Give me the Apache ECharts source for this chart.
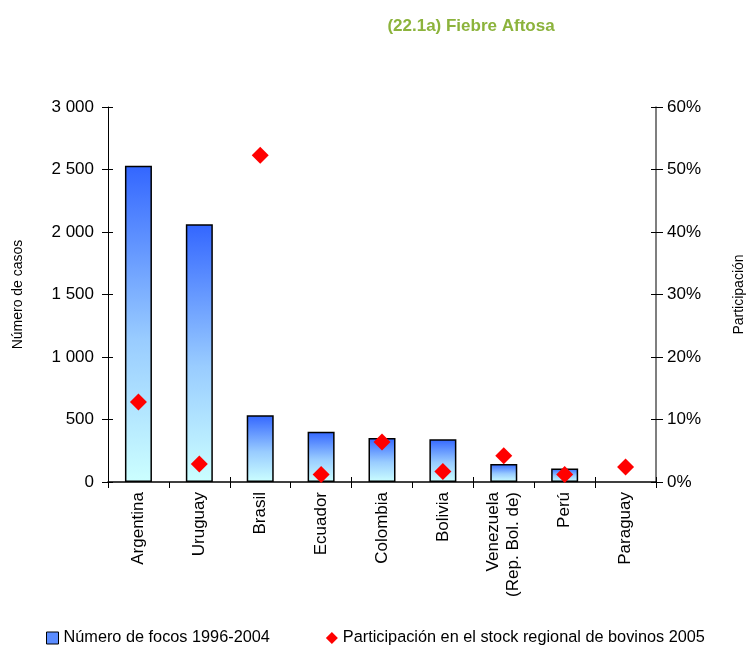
<!DOCTYPE html>
<html><head><meta charset="utf-8">
<script src="https://cdn.jsdelivr.net/npm/echarts@6/dist/echarts.min.js"></script>
<style>html,body{margin:0;padding:0;background:#fff}#c{width:750px;height:648px}</style>
</head><body><div id="c"></div>
<script>
const categories = ['Argentina','Uruguay','Brasil','Ecuador','Colombia','Bolivia','Venezuela\n(Rep. Bol. de)','Perú','Paraguay'];
const focos = [2530, 2062, 535, 402, 353, 343, 145, 108, null];
const participacion = [12.8, 2.9, 52.3, 1.2, 6.4, 1.7, 4.2, 1.2, 2.4];
const leftTicks = [0, 500, 1000, 1500, 2000, 2500, 3000];
const rightTicks = [0, 10, 20, 30, 40, 50, 60];
const FONT = '"Liberation Sans Narrow", "Arial Narrow", "Liberation Sans", Arial, sans-serif';

const chart = echarts.init(document.getElementById('c'));
const fmtNum = v => v >= 1000 ? Math.floor(v/1000) + ' ' + String(v%1000).padStart(3,'0') : String(v);
chart.setOption({
  animation: false,
  title: { text: '(22.1a) Fiebre Aftosa', left: 466, top: 13, textAlign: 'center',
    textStyle: { color: '#8cb33c', fontFamily: FONT, fontWeight: 'bold', fontSize: 17 } },
  legend: {
    bottom: 2, left: 46, padding: 0, itemGap: 56, itemWidth: 12, itemHeight: 12,
    textStyle: { fontFamily: FONT, fontSize: 16.3, color: '#000' },
    data: [
      { name: 'Número de focos 1996-2004', icon: 'rect', itemStyle: { color: '#5b8cff', borderColor: '#000', borderWidth: 1 } },
      { name: 'Participación en el stock regional de bovinos 2005', icon: 'diamond', itemStyle: { color: '#ff0000', opacity: 1 } }
    ]
  },
  grid: { left: 108, right: 94, top: 107, bottom: 166, containLabel: false, outerBoundsMode: 'none' },
  xAxis: [{
    type: 'category', data: categories,
    axisLine: { lineStyle: { color: '#000', width: 1.5 } },
    axisTick: { show: true, alignWithLabel: false, length: 6, lineStyle: { color: '#000' } },
    axisLabel: { rotate: 90, fontFamily: FONT, fontSize: 17, color: '#000', margin: 10, lineHeight: 20, align: 'right', verticalAlign: 'middle' }
  }, {
    type: 'category', data: categories, position: 'bottom',
    axisLine: { show: false }, axisLabel: { show: false },
    axisTick: { show: true, inside: true, length: 5, lineStyle: { color: '#000' } }
  }],
  yAxis: [{
    type: 'value', min: 0, max: 3000, interval: 500,
    name: 'Número de casos', nameLocation: 'middle', nameGap: 83, nameRotate: 90,
    nameTextStyle: { fontFamily: FONT, fontSize: 14, color: '#000' },
    axisLine: { show: true, lineStyle: { color: '#000', width: 1 } },
    axisTick: { show: true, length: 6, lineStyle: { color: '#000' } },
    splitLine: { show: false },
    axisLabel: { fontFamily: FONT, fontSize: 17, color: '#000', margin: 14, formatter: v => leftTicks.includes(v) ? fmtNum(v) : '' }
  }, {
    type: 'value', min: 0, max: 60, interval: 10, position: 'right',
    name: 'Participación', nameLocation: 'middle', nameGap: 76, nameRotate: 90,
    nameTextStyle: { fontFamily: FONT, fontSize: 14, color: '#000' },
    axisLine: { show: true, lineStyle: { color: '#555', width: 1.5 } },
    axisTick: { show: true, length: 7, lineStyle: { color: '#000' } },
    splitLine: { show: false },
    axisLabel: { fontFamily: FONT, fontSize: 17, color: '#000', margin: 11, formatter: v => rightTicks.includes(v) ? v + '%' : '' }
  }, {
    type: 'value', min: 0, max: 3000, interval: 500, position: 'left',
    axisLine: { show: false }, axisLabel: { show: false }, splitLine: { show: false },
    axisTick: { show: true, inside: true, length: 5, lineStyle: { color: '#000' } }
  }, {
    type: 'value', min: 0, max: 60, interval: 10, position: 'right',
    axisLine: { show: false }, axisLabel: { show: false }, splitLine: { show: false },
    axisTick: { show: true, inside: true, length: 5, lineStyle: { color: '#000' } }
  }],
  series: [{
    name: 'Número de focos 1996-2004', type: 'bar', data: focos, barWidth: 27, yAxisIndex: 0,
    itemStyle: {
      borderColor: '#000', borderWidth: 1.5,
      color: new echarts.graphic.LinearGradient(0, 0, 0, 1, [
        { offset: 0, color: '#3366ff' }, { offset: 0.55, color: '#99ccff' }, { offset: 1, color: '#ccffff' }
      ], false)
    }
  }, {
    name: 'Participación en el stock regional de bovinos 2005', type: 'scatter', data: participacion,
    yAxisIndex: 1, symbol: 'diamond', symbolSize: [17, 17], z: 5,
    itemStyle: { color: '#ff0000', opacity: 1 }
  }]
});
</script></body></html>
